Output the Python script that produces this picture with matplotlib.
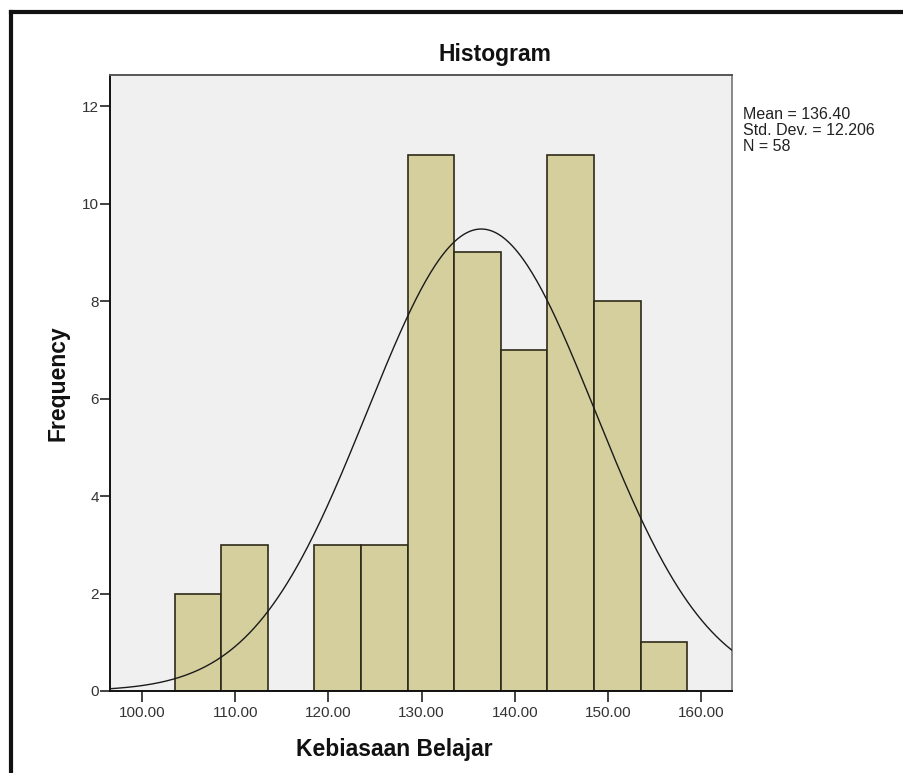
import numpy as np
import matplotlib
matplotlib.use("Agg")
import matplotlib.pyplot as plt
from matplotlib.lines import Line2D

# histogram data (bin width 5)
bin_edges = [103.5, 108.5, 113.5, 118.5, 123.5, 128.5, 133.5, 138.5, 143.5, 148.5, 153.5, 158.5]
counts = [2, 3, 0, 3, 3, 11, 9, 7, 11, 8, 1]
mean = 136.40
std_dev = 12.206
n_obs = 58
x_ticks = [100, 110, 120, 130, 140, 150, 160]
y_ticks = [0, 2, 4, 6, 8, 10, 12]

plt.rcParams['font.family'] = ['Liberation Sans', 'DejaVu Sans']

fig = plt.figure(figsize=(9.04, 7.73), dpi=100)
ax = fig.add_axes([0.1217, 0.1061, 0.688, 0.797])
ax.set_facecolor('#f0f0f0')

widths = np.diff(bin_edges)
ax.bar(bin_edges[:-1], counts, width=widths, align='edge',
       color='#d4cf9c', edgecolor='#2e2a1a', linewidth=1.2, zorder=2)

# normal curve scaled to counts
xs = np.linspace(96.0, 164.0, 400)
bw = 5.0
ys = n_obs * bw / (std_dev * np.sqrt(2 * np.pi)) * np.exp(-0.5 * ((xs - mean) / std_dev) ** 2)
ax.plot(xs, ys, color='#1a1a1a', linewidth=1.0, zorder=3)

ax.set_xlim(96.57, 163.3)
ax.set_ylim(0, 12.64)
ax.set_xticks(x_ticks)
ax.set_xticklabels([f"{t:.2f}" for t in x_ticks])
ax.set_yticks(y_ticks)
ax.tick_params(axis='x', length=8, width=1.2, color='#222222', labelsize=11,
               labelcolor='#333333', pad=3)
ax.tick_params(axis='y', length=7, width=1.2, color='#222222', labelsize=11,
               labelcolor='#333333', pad=1)

for side in ['left', 'bottom']:
    ax.spines[side].set_color('#111111')
    ax.spines[side].set_linewidth(1.4)
ax.spines['top'].set_color('#555555')
ax.spines['top'].set_linewidth(1.4)
ax.spines['right'].set_color('#888888')
ax.spines['right'].set_linewidth(1.4)

fig.text(0.5476, 0.929, 'Histogram', ha='center', va='center',
         fontsize=16.5, fontweight='bold', color='#111111')
fig.text(0.436, 0.031, 'Kebiasaan Belajar', ha='center', va='center',
         fontsize=16.5, fontweight='bold', color='#111111')
fig.text(0.064, 0.505, 'Frequency', ha='center', va='center', rotation=90,
         fontsize=16.5, fontweight='bold', color='#111111')

stats_text = f"Mean = {mean:.2f}\nStd. Dev. = {std_dev:.3f}\nN = {n_obs}"
fig.text(0.822, 0.862, stats_text, ha='left', va='top', fontsize=11.5,
         color='#222222', linespacing=1.08)

# outer frame (top and left visible)
fig.add_artist(Line2D([0.012, 1.0], [0.985, 0.985], color='#111111', linewidth=3,
                      transform=fig.transFigure))
fig.add_artist(Line2D([0.012, 0.012], [0.0, 0.985], color='#111111', linewidth=3,
                      transform=fig.transFigure))

fig.savefig('out.png', dpi=100)
